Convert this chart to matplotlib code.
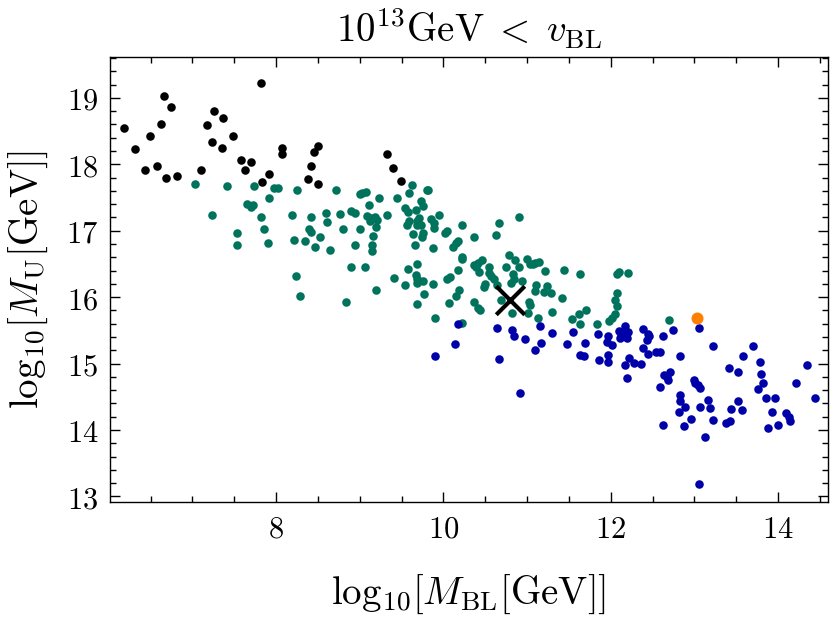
import matplotlib
matplotlib.use("Agg")
import matplotlib.pyplot as plt
from matplotlib.ticker import MultipleLocator, FuncFormatter

plt.rcParams['mathtext.fontset'] = 'cm'
plt.rcParams['font.family'] = 'serif'

# black points (log10 M_BL, log10 M_U)
black_x = [6.18, 6.32, 6.43, 6.49, 6.58, 6.62, 6.66, 6.69, 6.75, 6.82, 7.10, 7.18, 7.26, 7.24,
           7.36, 7.35, 7.49, 7.58, 7.63, 7.70, 7.82, 7.83, 7.92, 8.07, 8.07, 8.38, 8.42, 8.45,
           8.50, 8.50, 9.33, 9.40, 9.49]
black_y = [18.54, 18.23, 17.92, 18.43, 17.98, 18.61, 19.03, 17.80, 18.87, 17.82, 17.92, 18.59, 18.81, 18.34,
           18.69, 18.24, 18.42, 18.07, 17.92, 18.03, 19.23, 17.74, 17.86, 18.25, 18.15, 17.78, 17.98, 18.19,
           18.28, 17.71, 18.15, 17.94, 17.75]

green_x = [7.03, 7.23, 7.41, 7.53, 7.53, 7.65, 7.70, 7.73, 7.74, 7.82, 7.85, 7.90, 7.91, 7.98, 8.02,
           8.19, 8.21, 8.25, 8.35, 8.39, 8.42, 8.42, 8.46, 8.53, 8.60, 8.61, 8.64, 8.72, 8.76, 8.24,
           8.28, 8.80, 8.89, 8.94, 8.94, 8.89, 8.83, 9.00, 9.00, 9.06, 9.03, 9.08, 9.11, 9.09, 9.14,
           9.12, 9.18, 9.21, 9.16, 9.15, 9.15, 9.20, 9.23, 9.32, 9.19, 9.41, 9.45, 9.59, 9.63, 9.80,
           9.82, 9.73, 9.75, 9.54, 9.58, 9.67, 9.71, 9.69, 9.85, 9.89, 9.59, 9.56, 9.69, 9.73, 9.64,
           9.76, 9.74, 9.89, 9.95, 9.66, 9.87, 10.22, 10.04, 10.02, 10.17, 10.15, 10.12, 10.36, 10.22, 10.22,
           10.18, 9.68, 9.58, 9.54, 9.67, 9.69, 9.68, 9.71, 9.75, 9.88, 9.77, 9.69, 10.04, 10.08, 10.19,
           10.15, 10.07, 9.90, 10.22, 10.36, 10.41, 10.46, 10.39, 10.42, 10.54, 10.55, 10.57, 10.61, 10.64,
           10.50, 10.49, 10.37, 10.41, 10.44, 10.63, 10.66, 10.90, 10.78, 10.86, 10.75, 10.83, 10.90, 10.94,
           10.84, 10.81, 11.00, 11.03, 11.10, 11.14, 11.07, 11.21, 11.44, 11.11, 11.10, 11.24, 11.20, 11.28,
           10.69, 11.02, 11.04, 11.01, 10.82, 11.13, 11.30, 11.42, 11.54, 11.62, 11.70, 11.63, 11.83, 11.98,
           12.01, 12.05, 12.07, 12.05, 12.08, 11.63, 12.07, 12.10, 12.20, 12.70]
green_y = [17.71, 17.23, 17.68, 16.96, 16.78, 17.40, 17.35, 17.39, 17.67, 17.21, 17.03, 16.81, 17.50, 17.65, 17.64,
           17.23, 16.86, 17.61, 16.85, 17.03, 16.98, 17.20, 16.75, 16.90, 17.27, 17.13, 16.71, 17.61, 17.25, 16.32,
           16.02, 17.02, 17.30, 17.26, 16.79, 16.45, 15.93, 17.56, 17.03, 16.46, 17.57, 17.59, 17.38, 17.22, 17.19,
           17.15, 17.21, 17.16, 16.92, 16.79, 16.69, 17.05, 17.49, 17.23, 16.11, 16.29, 17.50, 17.57, 17.69, 17.62,
           17.62, 17.45, 17.37, 17.34, 17.28, 17.31, 17.19, 17.15, 17.17, 17.12, 17.14, 17.09, 17.08, 17.09, 16.95,
           16.97, 16.90, 17.04, 17.23, 16.78, 16.74, 17.09, 17.00, 16.97, 16.85, 16.81, 16.76, 16.90, 16.61, 16.57,
           16.41, 16.50, 16.43, 16.18, 16.34, 16.27, 16.22, 16.24, 16.24, 16.20, 16.04, 15.90, 16.28, 16.30, 16.11,
           16.02, 15.91, 15.68, 15.61, 16.49, 16.51, 16.56, 16.45, 16.38, 16.45, 16.37, 16.32, 16.27, 16.19,
           16.20, 16.15, 15.93, 15.84, 15.80, 16.94, 17.11, 17.21, 16.63, 16.56, 16.46, 16.35, 16.46, 16.24,
           16.27, 16.22, 16.58, 16.50, 16.52, 16.53, 16.50, 16.39, 16.41, 16.19, 16.10, 16.17, 16.08, 16.07,
           15.96, 15.92, 15.88, 15.76, 15.76, 15.68, 15.77, 15.98, 15.67, 15.75, 15.80, 15.60, 15.60, 15.64,
           15.68, 15.75, 15.86, 15.96, 16.07, 16.35, 16.35, 16.38, 16.36, 15.66]

blue_x = [10.18, 9.90, 10.14, 10.64, 10.67, 10.82, 10.84, 10.97, 10.92, 11.16, 11.17, 11.10, 11.30, 11.48,
          11.55, 11.69, 11.63, 11.68, 11.85, 11.86, 11.97, 11.95, 12.01, 11.97, 11.97, 12.10, 12.11, 12.17,
          12.12, 12.18, 12.20, 12.39, 12.44, 12.46, 12.43, 12.17, 12.22, 12.28, 12.36, 12.19, 12.38, 12.44,
          12.54, 12.59, 12.63, 12.74, 12.64, 12.67, 12.68, 12.71, 12.59, 12.83, 12.83, 12.83, 12.89, 12.82,
          12.62, 12.87, 12.96, 12.99, 13.01, 13.04, 13.07, 13.05, 13.07, 13.16, 13.19, 13.22, 13.13, 13.05,
          13.22, 13.41, 13.52, 13.58, 13.70, 13.78, 13.80, 13.82, 13.76, 13.85, 13.96, 13.52, 13.44, 13.57,
          13.38, 13.43, 13.93, 13.88, 14.00, 14.09, 14.13, 14.14, 14.21, 14.34, 14.44, 12.12, 12.19]
blue_y = [15.59, 15.11, 15.30, 15.53, 15.07, 15.51, 15.41, 15.37, 14.56, 15.57, 15.31, 15.21, 15.46, 15.30,
          15.47, 15.31, 15.13, 15.11, 15.45, 15.05, 15.42, 15.33, 15.28, 15.13, 15.03, 15.49, 15.39, 15.57,
          15.47, 15.44, 15.47, 15.52, 15.45, 15.42, 15.35, 14.98, 15.09, 15.01, 14.99, 14.78, 15.24, 15.15,
          15.18, 15.17, 15.41, 15.50, 14.83, 14.80, 14.76, 14.87, 14.65, 15.12, 14.52, 14.44, 14.34, 14.27,
          14.08, 14.06, 14.16, 14.75, 14.71, 14.68, 14.63, 15.54, 14.34, 14.45, 14.33, 14.15, 13.90, 13.19,
          15.27, 14.93, 14.88, 15.12, 15.27, 15.03, 14.84, 14.71, 14.61, 14.48, 14.48, 14.44, 14.31, 14.30,
          14.10, 14.14, 14.27, 14.03, 14.08, 14.26, 14.19, 14.13, 14.71, 14.98, 14.48, 15.41, 15.39]

orange_x = [13.03]
orange_y = [15.69]
cross_x = [10.79]
cross_y = [15.96]

fig = plt.figure(figsize=(8.30, 6.28), dpi=100)
ax = fig.add_axes([0.132, 0.2, 0.866, 0.7097])

ms = 38
ax.scatter(black_x, black_y, s=ms, color='black', linewidths=0, zorder=3)
ax.scatter(green_x, green_y, s=ms, color='#00735c', linewidths=0, zorder=3)
ax.scatter(blue_x, blue_y, s=ms, color='#0000a8', linewidths=0, zorder=3)
ax.scatter(orange_x, orange_y, s=75, color='#ff8000', linewidths=0, zorder=4)
ax.scatter(cross_x, cross_y, s=420, marker='x', color='black', linewidths=3.0, zorder=5)

ax.set_xlim(6.01, 14.6)
ax.set_ylim(12.91, 19.62)

ax.xaxis.set_major_locator(MultipleLocator(2))
ax.xaxis.set_minor_locator(MultipleLocator(0.5))
ax.yaxis.set_major_locator(MultipleLocator(1))
ax.yaxis.set_minor_locator(MultipleLocator(0.2))
fmt = FuncFormatter(lambda v, p: r'$%d$' % round(v))
ax.xaxis.set_major_formatter(fmt)
ax.yaxis.set_major_formatter(fmt)
ax.tick_params(which='both', direction='in', top=True, right=True, width=1.0)
ax.tick_params(which='major', length=7, labelsize=22, pad=8)
ax.tick_params(which='minor', length=4)
for sp in ax.spines.values():
    sp.set_linewidth(1.0)

ax.set_xlabel(r'${\rm log}_{10}[M_{\rm BL}[{\rm GeV}]]$', fontsize=28, labelpad=20)
ax.set_ylabel(r'${\rm log}_{10}[M_{\rm U}[{\rm GeV}]]$', fontsize=28, labelpad=12)
ax.set_title(r'$10^{13}{\rm GeV}\;<\;v_{\rm BL}$', fontsize=28, pad=10)

fig.savefig('out.png', dpi=100)
